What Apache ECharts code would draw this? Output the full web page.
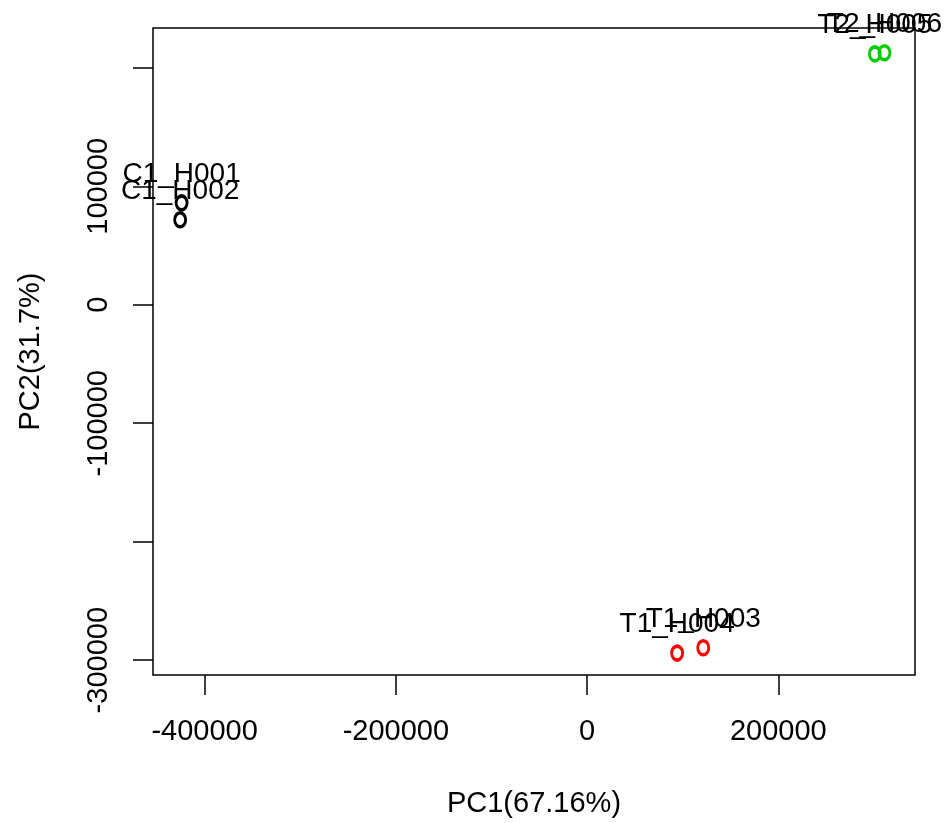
<!DOCTYPE html>
<html lang="en">
<head>
    <meta charset="UTF-8">
    <title>PCA</title>
    <script src="https://cdn.jsdelivr.net/npm/echarts@6/dist/echarts.min.js"></script>
    <style>
        html, body { margin: 0; padding: 0; background: #fff; }
        #chart { width: 944px; height: 823px; }
    </style>
</head>
<body>
<div id="chart"></div>
<script>
    // samples
    var sampleNames = ['C1_H001', 'C1_H002', 'T1_H003', 'T1_H004', 'T2_H005', 'T2_H006'];
    var sampleGroups = ['C1', 'C1', 'T1', 'T1', 'T2', 'T2'];
    var pc1Values = [-424100, -425600, 121500, 94200, 301000, 311000];
    var pc2Values = [86000, 71700, -289500, -294000, 211800, 212700];

    var groupNames = ['C1', 'T1', 'T2'];
    var groupColors = ['#000000', '#ff0000', '#00cd00'];

    var xTicks = [-400000, -200000, 0, 200000];
    var yTicks = [-300000, -200000, -100000, 0, 100000, 200000];
    var yTickLabels = [-300000, -100000, 0, 100000];

    var font = 'Liberation Sans, Arial, sans-serif';

    var chart = echarts.init(document.getElementById('chart'));

    var series = [];
    for (var g = 0; g < groupNames.length; g++) {
        var pts = [];
        for (var i = 0; i < sampleNames.length; i++) {
            if (sampleGroups[i] === groupNames[g]) {
                pts.push({name: sampleNames[i], value: [pc1Values[i], pc2Values[i]]});
            }
        }
        series.push({
            type: 'scatter',
            name: groupNames[g],
            data: pts,
            symbol: 'circle',
            symbolSize: [11, 14],
            itemStyle: {
                color: 'rgba(0,0,0,0)',
                borderColor: groupColors[g],
                borderWidth: 3.2,
                opacity: 1
            },
            label: {
                show: true,
                position: 'top',
                distance: 6,
                formatter: '{b}',
                color: '#000',
                opacity: 1,
                textBorderWidth: 0,
                fontFamily: font,
                fontSize: 28
            },
            emphasis: {disabled: true}
        });
    }

    chart.setOption({
        animation: false,
        backgroundColor: '#fff',
        grid: {
            left: 153,
            right: 29,
            top: 28,
            bottom: 146,
            show: true,
            borderColor: '#000',
            borderWidth: 1.5,
            backgroundColor: 'rgba(0,0,0,0)'
        },
        xAxis: {
            type: 'value',
            min: -454000,
            max: 343000,
            name: 'PC1(67.16%)',
            nameLocation: 'middle',
            nameGap: 114,
            nameTextStyle: {color: '#000', fontFamily: font, fontSize: 29},
            splitLine: {show: false},
            axisLine: {show: false, onZero: false},
            axisTick: {
                show: true,
                length: 20,
                customValues: xTicks,
                lineStyle: {color: '#000', width: 1.5}
            },
            axisLabel: {
                customValues: xTicks,
                margin: 42,
                color: '#000',
                fontFamily: font,
                fontSize: 29,
                formatter: function (v) { return String(v); }
            }
        },
        yAxis: {
            type: 'value',
            min: -312500,
            max: 233600,
            name: 'PC2(31.7%)',
            nameLocation: 'middle',
            nameGap: 108,
            nameTextStyle: {color: '#000', fontFamily: font, fontSize: 29},
            splitLine: {show: false},
            axisLine: {show: false, onZero: false},
            axisTick: {
                show: true,
                length: 20,
                customValues: yTicks,
                lineStyle: {color: '#000', width: 1.5}
            },
            axisLabel: {
                customValues: yTickLabels,
                rotate: 90,
                margin: 40,
                color: '#000',
                fontFamily: font,
                fontSize: 29,
                formatter: function (v) { return String(v); }
            }
        },
        series: series
    });
</script>
</body>
</html>
